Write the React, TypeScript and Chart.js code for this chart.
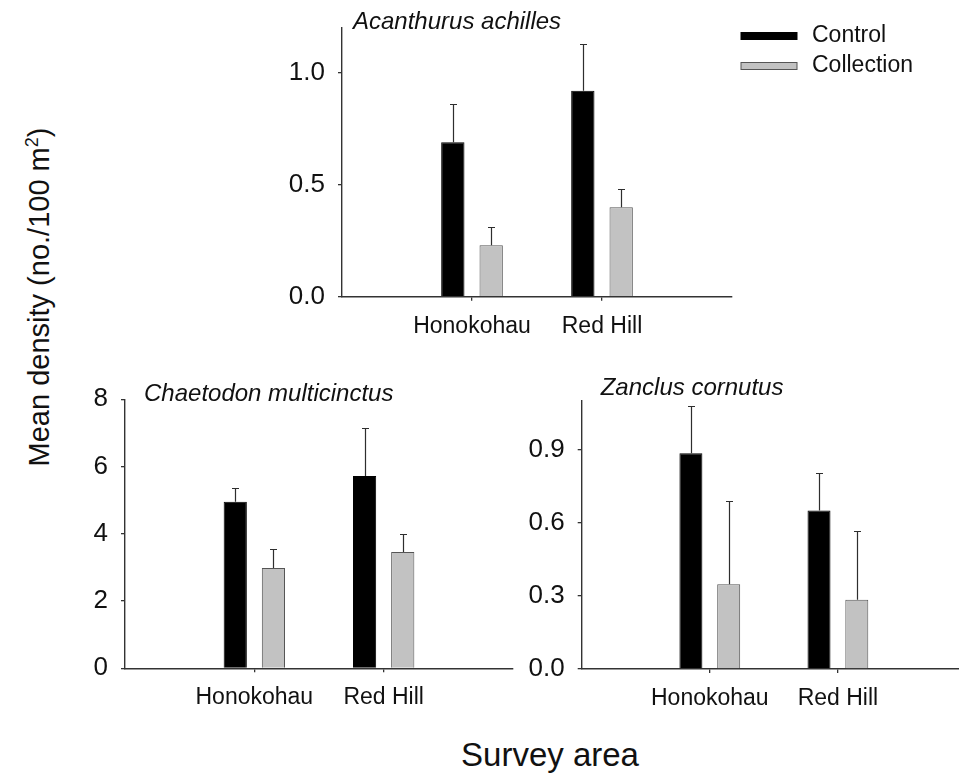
import React, { useEffect, useRef } from 'react';
import { Chart, registerables } from 'chart.js';

Chart.register(...registerables);

const FONT = "'Liberation Sans', Arial, Helvetica, sans-serif";

// ---------- data ----------
const categories = ['Honokohau', 'Red Hill'];
const seriesNames = ['Control', 'Collection'];

const acanthurusControl = [0.69, 0.92];
const acanthurusControlSE = [0.17, 0.21];
const acanthurusCollection = [0.23, 0.4];
const acanthurusCollectionSE = [0.08, 0.08];

const chaetodonControl = [4.95, 5.72];
const chaetodonControlSE = [0.42, 1.43];
const chaetodonCollection = [2.98, 3.46];
const chaetodonCollectionSE = [0.56, 0.54];

const zanclusControl = [0.885, 0.65];
const zanclusControlSE = [0.195, 0.155];
const zanclusCollection = [0.347, 0.284];
const zanclusCollectionSE = [0.34, 0.283];

const acanthurusTicks = [0, 0.5, 1.0];
const chaetodonTicks = [0, 2, 4, 6, 8];
const zanclusTicks = [0, 0.3, 0.6, 0.9];

const yAxisTitle = 'Mean density (no./100 m';
const xAxisTitle = 'Survey area';

// ---------- plugins ----------
const errorBarPlugin = {
  id: 'errorBars',
  afterDatasetsDraw(chart: any, _args: any, opts: any) {
    const { ctx } = chart;
    const yScale = chart.scales.y;
    ctx.save();
    ctx.strokeStyle = opts.color;
    ctx.lineWidth = opts.width;
    chart.data.datasets.forEach((ds: any, di: number) => {
      const meta = chart.getDatasetMeta(di);
      meta.data.forEach((el: any, i: number) => {
        const v = ds.data[i];
        const e = ds.errors ? ds.errors[i] : null;
        if (v == null || e == null) return;
        const x = Math.round(el.x) + 0.5;
        const y0 = el.y;
        const y1 = Math.round(yScale.getPixelForValue(v + e)) + 0.5;
        ctx.beginPath();
        ctx.moveTo(x, y0);
        ctx.lineTo(x, y1);
        ctx.moveTo(x - opts.cap, y1);
        ctx.lineTo(x + opts.cap, y1);
        ctx.stroke();
      });
    });
    ctx.restore();
  },
};

const titlePlugin = {
  id: 'speciesTitle',
  afterDraw(chart: any, _args: any, opts: any) {
    const { ctx, chartArea } = chart;
    ctx.save();
    ctx.font = `italic ${opts.size}px ${FONT}`;
    ctx.fillStyle = opts.color;
    ctx.textAlign = 'left';
    ctx.textBaseline = 'alphabetic';
    ctx.fillText(opts.text, chartArea.left + opts.dx, chartArea.top + opts.dy);
    ctx.restore();
  },
};

const keyPlugin = {
  id: 'seriesKey',
  afterDraw(chart: any, _args: any, opts: any) {
    if (!opts || !opts.display) return;
    const { ctx } = chart;
    ctx.save();
    ctx.font = `${opts.size}px ${FONT}`;
    ctx.textAlign = 'left';
    ctx.textBaseline = 'middle';
    chart.data.datasets.forEach((ds: any, i: number) => {
      const cy = opts.y + i * opts.rowGap;
      const top = Math.round(cy - opts.boxHeight / 2) + 0.5;
      ctx.fillStyle = ds.backgroundColor;
      ctx.fillRect(opts.x, top, opts.boxWidth, opts.boxHeight);
      ctx.strokeStyle = ds.borderColor;
      ctx.lineWidth = 1;
      ctx.strokeRect(opts.x, top, opts.boxWidth, opts.boxHeight);
      ctx.fillStyle = opts.color;
      ctx.fillText(ds.label, opts.x + opts.boxWidth + opts.textGap, cy);
    });
    ctx.restore();
  },
};

// ---------- panel layout ----------
type Panel = {
  key: string;
  title: string;
  control: number[];
  controlSE: number[];
  collection: number[];
  collectionSE: number[];
  ticks: number[];
  decimals: number;
  yMax: number;
  left: number;
  top: number;
  width: number;
  height: number;
  padding: { left: number; top: number; right: number; bottom: number };
  yAxisWidth: number;
  xAxisHeight: number;
  titleDx: number;
  titleDy: number;
  showKey: boolean;
};

const panels: Panel[] = [
  {
    key: 'acanthurus',
    title: 'Acanthurus achilles',
    control: acanthurusControl,
    controlSE: acanthurusControlSE,
    collection: acanthurusCollection,
    collectionSE: acanthurusCollectionSE,
    ticks: acanthurusTicks,
    decimals: 1,
    yMax: 1.2,
    left: 262,
    top: 0,
    width: 697,
    height: 345,
    padding: { left: 0, top: 28, right: 227, bottom: 0 },
    yAxisWidth: 80,
    xAxisHeight: 48.3,
    titleDx: 11,
    titleDy: 0.5,
    showKey: true,
  },
  {
    key: 'chaetodon',
    title: 'Chaetodon multicinctus',
    control: chaetodonControl,
    controlSE: chaetodonControlSE,
    collection: chaetodonCollection,
    collectionSE: chaetodonCollectionSE,
    ticks: chaetodonTicks,
    decimals: 0,
    yMax: 8,
    left: 60,
    top: 370,
    width: 470,
    height: 355,
    padding: { left: 0, top: 29.3, right: 17, bottom: 0 },
    yAxisWidth: 65,
    xAxisHeight: 56.7,
    titleDx: 19,
    titleDy: 2,
    showKey: false,
  },
  {
    key: 'zanclus',
    title: 'Zanclus cornutus',
    control: zanclusControl,
    controlSE: zanclusControlSE,
    collection: zanclusCollection,
    collectionSE: zanclusCollectionSE,
    ticks: zanclusTicks,
    decimals: 1,
    yMax: 1.1,
    left: 520,
    top: 370,
    width: 460,
    height: 355,
    padding: { left: 0, top: 30.7, right: 11, bottom: 0 },
    yAxisWidth: 61.7,
    xAxisHeight: 56,
    titleDx: 19,
    titleDy: -5.7,
    showKey: false,
  },
];

const AXIS = '#333333';
const TEXT = '#111111';

function makeConfig(p: Panel): any {
  const labels = ['', ...categories, ''];
  const pad = (arr: number[]) => [null, ...arr, null];
  const last = labels.length - 1;
  return {
    type: 'bar',
    data: {
      labels,
      datasets: [
        {
          label: seriesNames[0],
          data: pad(p.control),
          errors: pad(p.controlSE),
          backgroundColor: '#000000',
          borderColor: '#000000',
          borderWidth: 1,
        },
        {
          label: seriesNames[1],
          data: pad(p.collection),
          errors: pad(p.collectionSE),
          backgroundColor: '#c2c2c2',
          borderColor: '#555555',
          borderWidth: 1,
        },
      ],
    },
    options: {
      responsive: false,
      animation: false,
      devicePixelRatio: 1,
      categoryPercentage: 0.59,
      barPercentage: 0.608,
      layout: { padding: p.padding },
      events: [],
      plugins: {
        legend: { display: false },
        tooltip: { enabled: false },
        title: { display: false },
        errorBars: { color: '#2e2e2e', width: 1.2, cap: 3.5 },
        speciesTitle: { text: p.title, dx: p.titleDx, dy: p.titleDy, size: 24, color: TEXT },
        seriesKey: {
          display: p.showKey,
          x: 479,
          y: 35.5,
          rowGap: 30,
          boxWidth: 56,
          boxHeight: 7,
          textGap: 15,
          size: 23,
          color: TEXT,
        },
      },
      scales: {
        x: {
          type: 'category',
          offset: false,
          grid: {
            display: true,
            drawOnChartArea: false,
            offset: false,
            drawTicks: true,
            tickLength: 4,
            lineWidth: 1.3,
            color: (ctx: any) => (ctx.index === 0 || ctx.index === last ? 'rgba(0,0,0,0)' : AXIS),
          },
          border: { display: true, color: AXIS, width: 1.4 },
          ticks: {
            autoSkip: false,
            maxRotation: 0,
            minRotation: 0,
            padding: 14,
            color: TEXT,
            font: { size: 23, lineHeight: 1, family: FONT },
          },
          afterFit: (s: any) => {
            s.height = p.xAxisHeight;
          },
        },
        y: {
          type: 'linear',
          min: 0,
          max: p.yMax,
          grid: {
            display: true,
            drawOnChartArea: false,
            drawTicks: true,
            tickLength: 4,
            lineWidth: 1.3,
            color: AXIS,
          },
          border: { display: true, color: AXIS, width: 1.4 },
          ticks: {
            padding: 13,
            color: TEXT,
            font: { size: 26, lineHeight: 1, family: FONT },
            callback: (v: any) => Number(v).toFixed(p.decimals),
          },
          afterBuildTicks: (s: any) => {
            s.ticks = p.ticks.map((v) => ({ value: v }));
          },
          afterFit: (s: any) => {
            s.width = p.yAxisWidth;
          },
        },
      },
    },
    plugins: [errorBarPlugin, titlePlugin, keyPlugin],
  };
}

function PanelChart({ panel }: { panel: Panel }) {
  const ref = useRef<HTMLCanvasElement | null>(null);
  useEffect(() => {
    if (!ref.current) return;
    const chart = new Chart(ref.current, makeConfig(panel));
    return () => chart.destroy();
  }, [panel]);
  return (
    <canvas
      ref={ref}
      width={panel.width}
      height={panel.height}
      style={{
        position: 'absolute',
        left: panel.left,
        top: panel.top,
        width: panel.width,
        height: panel.height,
      }}
    />
  );
}

export default function App() {
  Chart.defaults.font.family = FONT;
  Chart.defaults.color = TEXT;
  return (
    <div
      style={{
        position: 'fixed',
        left: 0,
        top: 0,
        width: 959,
        height: 777,
        overflow: 'hidden',
        background: '#ffffff',
        fontFamily: FONT,
        color: TEXT,
      }}
    >
      {panels.map((p) => (
        <PanelChart key={p.key} panel={p} />
      ))}
      <div
        style={{
          position: 'absolute',
          left: 39 - 220,
          top: 297 - 15,
          width: 440,
          height: 30,
          lineHeight: '30px',
          fontSize: 29,
          textAlign: 'center',
          whiteSpace: 'nowrap',
          transform: 'rotate(-90deg)',
          transformOrigin: '50% 50%',
        }}
      >
        {yAxisTitle}
        <span style={{ fontSize: '0.62em', verticalAlign: '0.62em', lineHeight: 0 }}>2</span>)
      </div>
      <div
        style={{
          position: 'absolute',
          left: 550 - 200,
          top: 755 - 16,
          width: 400,
          height: 32,
          lineHeight: '32px',
          fontSize: 33,
          textAlign: 'center',
          whiteSpace: 'nowrap',
        }}
      >
        {xAxisTitle}
      </div>
    </div>
  );
}
